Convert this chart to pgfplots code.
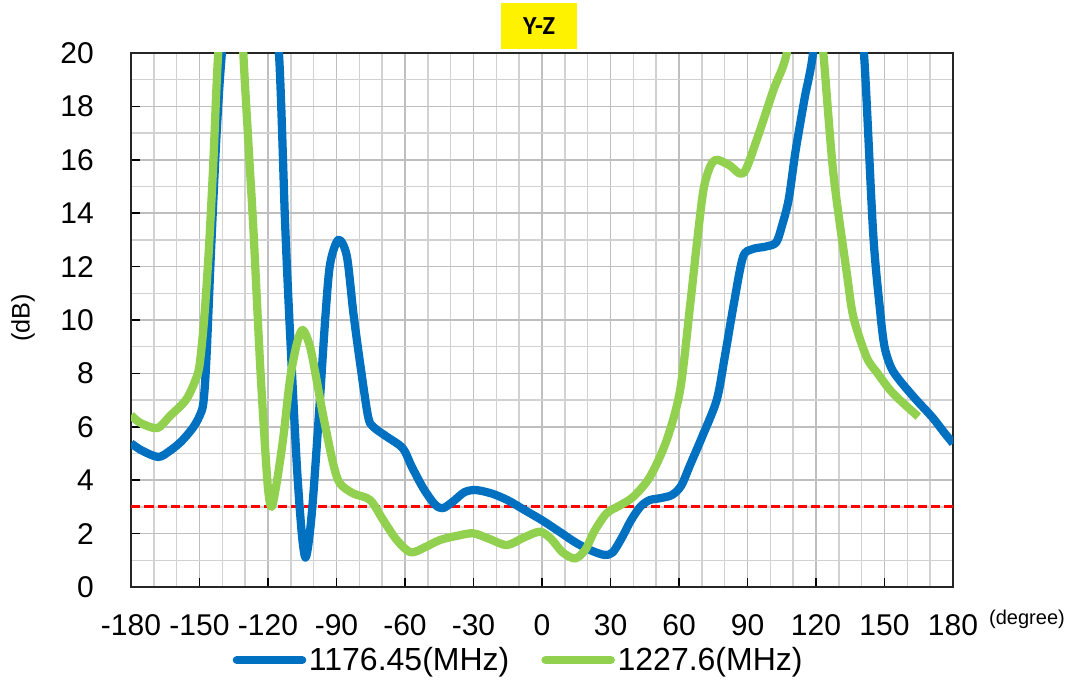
\documentclass[border=0pt]{standalone}
\usepackage{pgfplots}
\pgfplotsset{compat=1.18}
\usepackage{fontspec}
\setmainfont{Liberation Sans}
\newfontfamily\titlefont{Carlito}

\definecolor{lineblue}{HTML}{0070C0}
\definecolor{linegreen}{HTML}{92D050}

\begin{document}
\begin{tikzpicture}
\useasboundingbox (0,0) rectangle (804.75pt,513pt);
\begin{axis}[
    at={(98.25pt,72.75pt)}, anchor=south west,
    scale only axis,
    width=616.5pt, height=400.5pt,
    xmin=-180, xmax=180, ymin=0, ymax=20,
    xtick={-180,-150,...,180},
    xticklabels={-180,-150,-120,-90,-60,-30,0,30,60,90,120,150,180},
    ytick={0,2,...,20},
    yticklabels={0,2,4,6,8,10,12,14,16,18,20},
    minor xtick={-170,-160,-140,-130,-110,-100,-80,-70,-50,-40,-20,-10,10,20,40,50,70,80,100,110,130,140,160,170},
    minor ytick={1,3,...,19},
    grid=both,
    major grid style={gray!50, line width=1.1pt},
    minor grid style={gray!35, line width=1.1pt},
    tick pos=left, tick align=inside,
    major tick length=6.5pt, minor tick length=0pt,
    tick style={black, line width=1.2pt},
    axis line style={black!85, line width=1.6pt},
    ticklabel style={font=\fontsize{22.5}{22.5}\selectfont, inner sep=0pt},
    xticklabel style={anchor=center, yshift=-28.5pt},
    yticklabel style={anchor=east, xshift=-27.75pt},
    clip=true,
    legend columns=2,
    legend style={at={(0.472,-0.137)}, anchor=center, draw=none, fill=none,
        font=\fontsize{24}{24}\selectfont,
        /tikz/every even column/.append style={column sep=22pt}},
    legend image code/.code={\draw[#1, line cap=round] (0pt,0pt) -- (49pt,0pt);},
]
% 3 dB reference
\addplot[red, line width=2.2pt, dash pattern=on 7pt off 3pt, forget plot]
    coordinates {(-180,3) (180,3)};

% 1176.45 MHz
\addplot[lineblue, line width=6.2pt, line join=round, smooth, tension=0.5] coordinates {
    (-180,5.38) (-175,5.1) (-168,4.87) (-163,5.1) (-158,5.45) (-153,5.95)
    (-150,6.4) (-148.3,6.9) (-147,8.5) (-145,12.5) (-142.5,17) (-140,20.2)
    (-134,25.5) (-127,28) (-120,25) (-115.2,20) (-112.5,13.6) (-110.4,9.6)
    (-107.4,4.6) (-105.2,2.0) (-103.6,1.1) (-102,1.8) (-100.2,3.4) (-97.2,7.1)
    (-94.8,10.2) (-92.8,12.1) (-89.2,13.0) (-85.5,12.4) (-82.6,10.25) (-79.7,8.4)
    (-76.2,6.4) (-73.9,6.0) (-68,5.63) (-61,5.2) (-57,4.5)
    (-52,3.7) (-47,3.1) (-43.5,2.95) (-39,3.2) (-34,3.55) (-29,3.63)
    (-22,3.5) (-15,3.25) (-8,2.9) (0,2.5) (8,2.05) (15,1.65)
    (22,1.35) (27.5,1.2) (31,1.3) (35,1.85) (39,2.5) (43,3.0)
    (47,3.25) (52,3.33) (57,3.45) (61,3.8) (65,4.6) (70,5.6)
    (76.5,7.0) (80,8.6) (84,10.6) (88,12.35) (92,12.65) (98,12.75)
    (102.5,12.9) (105,13.5) (108,14.5) (111,16.3) (115,18.3) (119,20.2)
    (125,25.5) (130,27) (136,25) (141,20) (145,13.3) (148,10.4)
    (150,9.0) (153,8.2) (157,7.7) (164,7.0) (171,6.35) (176,5.8) (180,5.38)
};
\addlegendentry{1176.45(MHz)}

% 1227.6 MHz
\addplot[linegreen, line width=6.2pt, line join=round, smooth, tension=0.5] coordinates {
    (-180,6.44) (-176,6.15) (-168.5,5.95) (-163,6.4) (-156,7.0) (-152,7.7)
    (-150,8.3) (-148,10.0) (-146,12.5) (-144,15.8) (-141.8,20) (-138,24)
    (-135,25) (-132,23) (-130.8,20) (-128.5,16.5) (-126.4,13.4) (-123.5,8.4)
    (-121.3,5.25) (-119.9,3.6) (-118.4,3.0) (-116.2,3.9) (-113.3,5.6) (-110.4,7.75)
    (-107.4,9.1) (-104.8,9.63) (-101.6,9.0) (-98.7,7.75) (-95.8,6.4) (-91.4,4.6)
    (-88.5,3.88) (-82.6,3.5)
    (-75.3,3.26) (-69.5,2.5) (-63.6,1.76) (-57.5,1.3) (-51,1.5) (-44.7,1.76)
    (-37,1.92) (-30.1,2.01) (-23,1.8) (-15.4,1.57) (-8,1.85) (-0.9,2.07)
    (4,1.8) (9,1.3) (14.5,1.07) (19,1.4) (23,2.1) (28.3,2.76)
    (34,3.05) (40,3.38) (47.3,4.13) (54.6,5.5) (60.5,7.38) (64.8,10.5)
    (68,13) (70.7,14.87) (73.6,15.74) (76.5,16.0) (82,15.8) (88.2,15.5)
    (94,16.74) (101.3,18.6) (107.2,20) (112,23) (116,24) (120,22.5)
    (123.2,20) (127.6,15.5) (133.5,11.75) (136.4,10.1) (142.2,8.6) (147,8.0)
    (152.4,7.38) (158,6.9) (164.8,6.38)
};
\addlegendentry{1227.6(MHz)}
\end{axis}

\node[fill=yellow, minimum width=57pt, minimum height=34.5pt, inner sep=0pt,
      font=\titlefont\bfseries\fontsize{19.5}{19.5}\selectfont]
    at (404.25pt,493.5pt) {Y-Z};
\node[rotate=90, font=\fontsize{19}{19}\selectfont] at (17.25pt,274.5pt) {(dB)};
\node[font=\fontsize{15}{15}\selectfont] at (770.25pt,48.75pt) {(degree)};
\end{tikzpicture}
\end{document}
